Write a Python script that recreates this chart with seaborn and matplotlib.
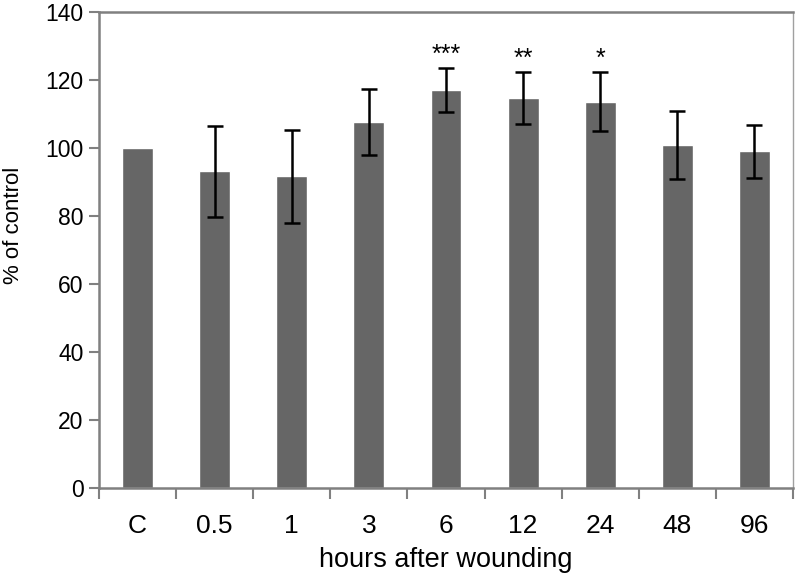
import seaborn as sns
import matplotlib.pyplot as plt
import pandas as pd
import numpy as np
import matplotlib.ticker as mtick

hours = ["C", "0.5", "1", "3", "6", "12", "24", "48", "96"]
pct_control = [100, 93.2, 91.7, 107.7, 117.1, 114.7, 113.7, 100.9, 99.1]
err = [0, 13.4, 13.7, 9.6, 6.5, 7.6, 8.8, 10.0, 7.8]
signif = ["", "", "", "", "***", "**", "*", "", ""]

df = pd.DataFrame({"hours": hours, "pct": pct_control, "err": err, "sig": signif})

sns.set_theme(style="white")
plt.rcParams['font.family'] = ['Liberation Sans', 'DejaVu Sans']
plt.rcParams['text.color'] = 'black'
plt.rcParams['axes.labelcolor'] = 'black'
plt.rcParams['xtick.labelcolor'] = 'black'
plt.rcParams['ytick.labelcolor'] = 'black'

fig = plt.figure(figsize=(7.97, 5.79), dpi=100)
ax = fig.add_axes([0.1242, 0.1572, 0.8708, 0.8218])

sns.barplot(data=df, x="hours", y="pct", color="#666666", saturation=1,
            width=0.4, errorbar=None, ax=ax)

# control has no error bar
pos = np.arange(len(df))
has_err = df["err"] > 0
ax.errorbar(pos[has_err], df["pct"][has_err], yerr=df["err"][has_err], fmt="none",
            ecolor="black", elinewidth=1.8, capsize=6, capthick=1.8)

for i, row in df.iterrows():
    if row["sig"]:
        ax.text(i, row["pct"] + row["err"] + 0.3, row["sig"], ha="center",
                va="bottom", fontsize=18, color="black")

ax.set_xlim(-0.5, len(df) - 0.5)
ax.set_ylim(0, 140)
ax.yaxis.set_major_locator(mtick.MultipleLocator(20))

# ticks between categories, labels at category centres
ax.set_xticks(np.arange(len(df) + 1) - 0.5)
ax.set_xticklabels([])
ax.set_xticks(pos, minor=True)
ax.set_xticklabels(hours, minor=True)
ax.tick_params(axis="x", which="major", direction="out", length=8, width=1.5,
               color="#808080", bottom=True)
ax.tick_params(axis="x", which="minor", length=0, labelsize=19, pad=19)
ax.tick_params(axis="y", direction="out", length=7, width=1.5, color="#808080",
               left=True, labelsize=16.5, pad=4)

for side in ["left", "bottom", "top"]:
    ax.spines[side].set_color("#808080")
    ax.spines[side].set_linewidth(1.8)
ax.spines["right"].set_color("#a0a0a0")
ax.spines["right"].set_linewidth(1.0)

ax.set_xlabel("hours after wounding", fontsize=19.5, labelpad=6)
ax.set_ylabel("% of control", fontsize=16)
ax.yaxis.set_label_coords(-0.108, 0.552)

fig.savefig("out.png", dpi=100)
